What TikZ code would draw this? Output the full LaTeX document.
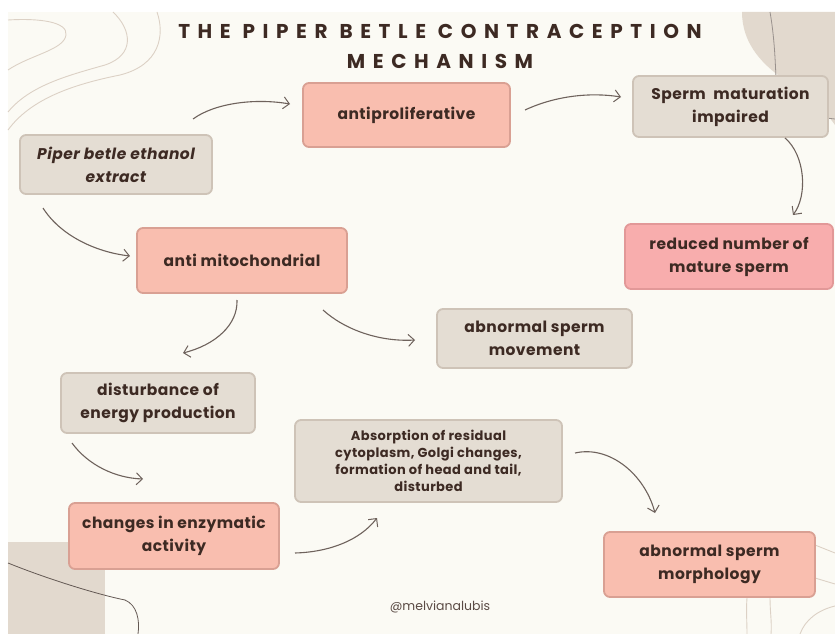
\documentclass[tikz,border=0pt]{standalone}
\usepackage{fontspec}
\setmainfont{Poppins}
\usetikzlibrary{arrows.meta}
\definecolor{bg}{HTML}{FBFAF4}
\definecolor{greyfill}{HTML}{E4DDD3}
\definecolor{greyline}{HTML}{CEC3B7}
\definecolor{pinkfill}{HTML}{F9BEAF}
\definecolor{pinkline}{HTML}{D9A093}
\definecolor{redfill}{HTML}{F8ADAD}
\definecolor{redline}{HTML}{E29898}
\definecolor{txt}{HTML}{3D2A23}
\definecolor{arr}{HTML}{6E625C}
\definecolor{deco}{HTML}{E2D9CE}
\definecolor{decoline}{HTML}{DCD1C5}
\tikzset{
  box/.style={rounded corners=6pt, line width=1.8pt, align=center, inner sep=0pt,
    font=\fontsize{15.5}{23}\selectfont\bfseries\addfontfeatures{LetterSpace=3}, text=txt},
  greybox/.style={box, fill=greyfill, draw=greyline},
  pinkbox/.style={box, fill=pinkfill, draw=pinkline},
  redbox/.style={box, fill=redfill, draw=redline},
  conn/.style={draw=arr, line width=1.1pt, -{Straight Barb[length=6pt,width=12pt,line width=1pt]}},
  decol/.style={draw=decoline, line width=0.9pt}
}
\begin{document}
\begin{tikzpicture}[x=1pt,y=-1pt]
\useasboundingbox (0,0) rectangle (835,634);
\fill[white] (0,0) rectangle (835,634);
\fill[bg] (8,12) rectangle (835,634);
% decorations top-left
\draw[decol] (8,20) .. controls (40,18) and (68,22) .. (66,35) .. controls (64,50) and (30,55) .. (8,70);
\draw[decol] (113,12) .. controls (132,30) and (135,55) .. (105,65) .. controls (70,75) and (30,85) .. (8,112);
\draw[decol] (157,12) .. controls (165,35) and (160,65) .. (120,75) .. controls (70,85) and (30,100) .. (8,130);
% top-right blob
\fill[deco] (742,12) .. controls (742,40) and (758,62) .. (785,80) .. controls (805,95) and (825,110) .. (835,125) -- (835,12) -- cycle;
\draw[draw=arr!70, line width=0.8pt] (770,12) .. controls (774,35) and (775,55) .. (776,78);
\draw[draw=arr!70, line width=0.8pt] (826,118) -- (835,119);
% bottom-left square
\fill[deco] (8,542) rectangle (105,634);
\draw[draw=arr!90!black, line width=0.8pt] (8,563) .. controls (50,580) and (100,595) .. (125,600) .. controls (137,605) and (140,620) .. (138,634);
% bottom-right faint lines
\draw[decol] (815,545) -- (835,553);
\draw[decol] (815,578) -- (835,584);
\draw[decol] (747,598) .. controls (746,610) and (747,622) .. (747,634);
\draw[decol] (770,598) .. controls (770,612) and (772,622) .. (771,634);
\draw[decol] (800,634) .. controls (805,620) and (818,610) .. (835,606);
% title
\node[font=\fontsize{20}{30}\selectfont\bfseries\addfontfeatures{LetterSpace=38}, text=txt, align=center] (title) at (440,46) {THE PIPER BETLE CONTRACEPTION\\MECHANISM};
% boxes
\node[greybox, minimum width=192pt, minimum height=59pt, font=\fontsize{15.5}{23}\selectfont\bfseries\itshape\addfontfeatures{LetterSpace=3}] (ext) at (116,164.5) {Piper betle ethanol\\extract};
\node[pinkbox, minimum width=207pt, minimum height=64pt] (anti) at (406.5,115) {antiproliferative};
\node[greybox, minimum width=195pt, minimum height=61pt] (smat) at (730.5,106.5) {Sperm\ \ maturation\\impaired};
\node[redbox, minimum width=208pt, minimum height=65pt] (red) at (729,256.5) {reduced number of\\mature sperm};
\node[pinkbox, minimum width=210pt, minimum height=65pt] (mito) at (242,260.5) {anti mitochondrial};
\node[greybox, minimum width=195pt, minimum height=59pt] (move) at (534.5,338.5) {abnormal sperm\\movement};
\node[greybox, minimum width=194pt, minimum height=60pt] (dist) at (158,403) {disturbance of\\energy production};
\node[greybox, minimum width=267pt, minimum height=82pt, font=\fontsize{13}{17}\selectfont\bfseries\addfontfeatures{LetterSpace=3}] (abs) at (428.5,461) {Absorption of residual\\cytoplasm, Golgi changes,\\formation of head and tail,\\disturbed};
\node[pinkbox, minimum width=210pt, minimum height=66pt] (chg) at (174,536) {changes in enzymatic\\activity};
\node[pinkbox, minimum width=211pt, minimum height=65pt] (morph) at (709.5,564.5) {abnormal sperm\\morphology};
\node[font=\fontsize{12.5}{14}\selectfont, text=txt!85] (wm) at (440,607) {@melvianalubis};
% arrow anchor coordinates
\coordinate (a1s) at (193,119); \coordinate (a1e) at (290,104);
\coordinate (a2s) at (525,110); \coordinate (a2e) at (621,97);
\coordinate (a3s) at (785,138); \coordinate (a3e) at (793,215);
\coordinate (a4s) at (43,208);  \coordinate (a4e) at (130,256);
\coordinate (a5s) at (237,300); \coordinate (a5e) at (183,353);
\coordinate (a6s) at (323,310); \coordinate (a6e) at (415,340);
\coordinate (a7s) at (72,443);  \coordinate (a7e) at (143,479);
\coordinate (a8s) at (295,553); \coordinate (a8e) at (377,518);
\coordinate (a9s) at (575,453); \coordinate (a9e) at (655,513);
\draw[conn] (a1s) .. controls (215,103) and (255,98) .. (a1e);
\draw[conn] (a2s) .. controls (555,96) and (590,92) .. (a2e);
\draw[conn] (a3s) .. controls (805,155) and (808,195) .. (a3e);
\draw[conn] (a4s) .. controls (60,235) and (95,252) .. (a4e);
\draw[conn] (a5s) .. controls (238,325) and (215,345) .. (a5e);
\draw[conn] (a6s) .. controls (345,330) and (380,342) .. (a6e);
\draw[conn] (a7s) .. controls (88,465) and (115,478) .. (a7e);
\draw[conn] (a8s) .. controls (330,552) and (360,540) .. (a8e);
\draw[conn] (a9s) .. controls (610,445) and (645,475) .. (a9e);
\end{tikzpicture}
\end{document}
